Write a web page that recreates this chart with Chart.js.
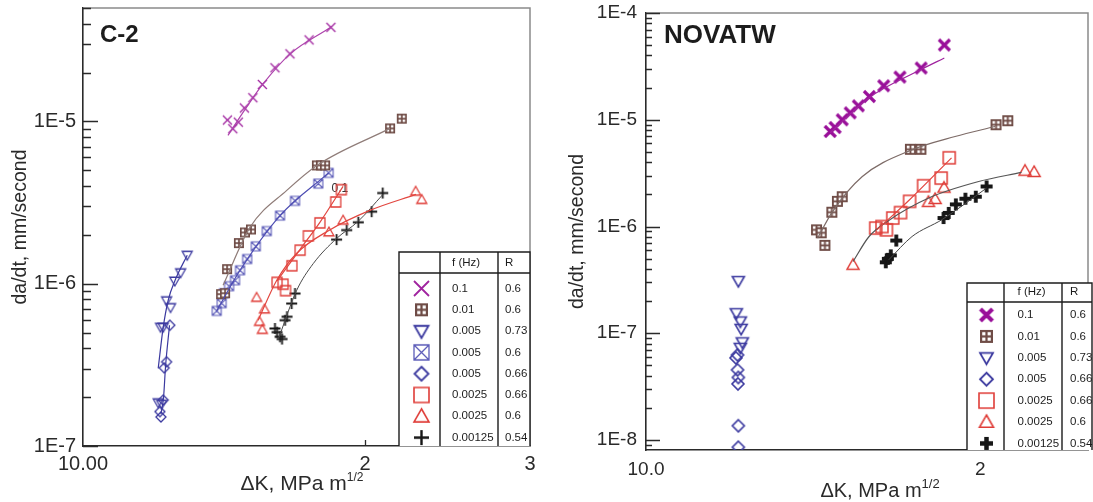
<!DOCTYPE html>
<html>
<head>
<meta charset="utf-8">
<script src="https://cdn.jsdelivr.net/npm/chart.js@4.4.1/dist/chart.umd.min.js"></script>
<style>
  html, body { margin: 0; padding: 0; background: #fff; }
  #wrap { position: relative; width: 1093px; height: 502px; overflow: hidden; }
  canvas { position: absolute; top: 0; }
  #c2 { left: 0; }
  #nova { left: 548px; }
</style>
</head>
<body>
<div id="wrap">
  <canvas id="c2" width="545" height="502"></canvas>
  <canvas id="nova" width="545" height="502"></canvas>
</div>
<script>
// ---------- C-2 panel data: [dK (MPa m^1/2), da/dt (mm/s)] ----------
const c2XTicks = [10, 20, 30];
const c2XLabels = ['10.00', '2', '3'];
const c2YTicks = [1e-7, 1e-6, 1e-5];
const c2YLabels = ['1E-7', '1E-6', '1E-5'];

const c2F01 = [[14.26,1.02e-5],[14.45,9.02e-6],[14.65,9.90e-6],[14.87,1.21e-5],[15.18,1.40e-5],[15.54,1.69e-5],[16.03,2.14e-5],[16.63,2.61e-5],[17.43,3.18e-5],[18.39,3.80e-5]];
const c2F01Fit = [[14.28,8.2e-6],[14.9,1.19e-5],[15.55,1.69e-5],[16.63,2.6e-5],[18.39,3.8e-5]];
const c2F001 = [[14.04,8.62e-7],[14.18,8.74e-7],[14.25,1.23e-6],[14.67,1.78e-6],[14.89,2.07e-6],[15.11,2.16e-6],[17.77,5.36e-6],[17.95,5.36e-6],[18.13,5.36e-6],[21.27,9.06e-6],[21.89,1.04e-5]];
const c2F001Fit = [[14.11,9.79e-7],[15.08,2.23e-6],[16.50,3.76e-6],[17.77,5.36e-6],[21.27,9.06e-6]];
const c2F0005R73 = [[12.92,1.50e-6],[12.71,1.17e-6],[12.53,1.04e-6],[12.28,7.86e-7],[12.40,7.14e-7],[12.10,5.40e-7],[12.18,5.40e-7],[12.03,1.85e-7],[12.13,1.81e-7]];
const c2F0005R73Fit = [[12.03,3.01e-7],[12.18,5.40e-7],[12.33,7.91e-7],[12.54,1.05e-6],[12.92,1.50e-6]];
const c2F0005R60 = [[13.89,6.80e-7],[14.06,7.59e-7],[14.14,8.74e-7],[14.32,9.65e-7],[14.53,1.05e-6],[14.71,1.21e-6],[14.97,1.42e-6],[15.29,1.70e-6],[15.71,2.11e-6],[16.23,2.63e-6],[16.84,3.24e-6],[17.83,4.14e-6],[18.29,4.82e-6]];
const c2F0005R60Fit = [[13.89,6.8e-7],[14.71,1.21e-6],[16.23,2.63e-6],[18.29,4.82e-6]];
const c2F0005R66 = [[12.38,5.55e-7],[12.28,3.30e-7],[12.21,3.03e-7],[12.18,1.92e-7],[12.08,1.63e-7],[12.11,1.51e-7]];
const c2F0005R66Fit = [[12.11,1.57e-7],[12.19,2.0e-7],[12.25,3.11e-7],[12.37,5.55e-7]];
const c2F00025R66 = [[16.11,1.02e-6],[16.35,9.93e-7],[16.45,9.06e-7],[16.71,1.29e-6],[17.05,1.61e-6],[17.40,1.97e-6],[17.90,2.37e-6],[18.61,3.19e-6],[18.87,3.80e-6]];
const c2F00025R66Fit = [[16.11,1.04e-6],[17.05,1.63e-6],[17.90,2.39e-6],[18.95,3.98e-6]];
const c2F00025R60 = [[15.32,8.23e-7],[15.62,6.97e-7],[15.43,5.85e-7],[15.54,5.22e-7],[18.30,2.08e-6],[18.95,2.46e-6],[22.65,3.71e-6],[22.99,3.30e-6]];
const c2F00025R60Fit = [[15.38,5.96e-7],[16.10,1.05e-6],[16.91,1.54e-6],[18.30,2.13e-6],[20.24,2.83e-6],[22.67,3.55e-6]];
const c2F000125 = [[16.03,5.30e-7],[16.11,5.03e-7],[16.23,4.71e-7],[16.31,4.56e-7],[16.43,5.96e-7],[16.51,6.26e-7],[16.70,7.55e-7],[16.84,8.70e-7],[18.65,1.87e-6],[19.12,2.14e-6],[19.67,2.39e-6],[20.33,2.78e-6],[20.89,3.62e-6]];
const c2F000125Fit = [[16.19,4.69e-7],[16.91,9.12e-7],[17.61,1.33e-6],[18.65,1.90e-6],[19.66,2.42e-6],[20.90,3.55e-6]];
const c2NoteText = '0.1';
const c2NoteAt = [18.80, 3.87e-6];

const c2Freq = ['0.1', '0.01', '0.005', '0.005', '0.005', '0.0025', '0.0025', '0.00125'];
const c2Ratio = ['0.6', '0.6', '0.73', '0.6', '0.66', '0.66', '0.6', '0.54'];

// ---------- NOVATW panel data ----------
const nvXTicks = [10, 20];
const nvXLabels = ['10.0', '2'];
const nvYTicks = [1e-8, 1e-7, 1e-6, 1e-5, 1e-4];
const nvYLabels = ['1E-8', '1E-7', '1E-6', '1E-5', '1E-4'];

const nvF01 = [[14.65,7.77e-6],[14.80,8.45e-6],[15.02,1.0e-5],[15.27,1.16e-5],[15.53,1.35e-5],[15.89,1.65e-5],[16.37,2.08e-5],[16.93,2.51e-5],[17.69,3.05e-5],[18.56,5.01e-5]];
const nvF01Fit = [[14.65,7.55e-6],[15.88,1.61e-5],[17.67,2.94e-5],[18.56,3.79e-5]];
const nvF001 = [[14.24,9.31e-7],[14.38,8.73e-7],[14.49,6.66e-7],[14.70,1.36e-6],[14.87,1.72e-6],[15.02,1.90e-6],[17.30,5.29e-6],[17.68,5.29e-6],[20.66,8.98e-6],[21.17,9.79e-6]];
const nvF001Fit = [[14.27,7.78e-7],[14.72,1.38e-6],[15.66,2.94e-6],[17.30,5.16e-6],[18.98,6.97e-6],[20.62,8.65e-6]];
const nvF0005R73 = [[12.11,3.08e-7],[12.06,1.54e-7],[12.16,1.29e-7],[12.18,1.10e-7],[12.21,8.22e-8],[12.16,7.30e-8]];
const nvF0005R66 = [[12.09,6.27e-8],[12.05,5.88e-8],[12.09,4.54e-8],[12.11,3.86e-8],[12.10,3.36e-8],[12.11,1.36e-8],[12.11,8.56e-9]];
const nvF00025R66 = [[16.10,9.66e-7],[16.31,1.0e-6],[16.46,9.31e-7],[16.68,1.20e-6],[16.95,1.35e-6],[17.27,1.72e-6],[17.78,2.41e-6],[18.44,2.84e-6],[18.75,4.40e-6]];
const nvF00025R66Fit = [[16.14,9.31e-7],[17.27,1.78e-6],[18.84,4.40e-6]];
const nvF00025R60 = [[15.36,4.38e-7],[17.96,1.70e-6],[18.21,1.81e-6],[18.55,2.31e-6],[21.94,3.33e-6],[22.36,3.24e-6]];
const nvF00025R60Fit = [[15.36,4.70e-7],[15.88,8.06e-7],[16.54,1.14e-6],[17.97,1.85e-6],[19.93,2.64e-6],[21.78,3.21e-6]];
const nvF000125 = [[16.44,4.62e-7],[16.51,4.98e-7],[16.61,5.37e-7],[16.80,7.39e-7],[18.53,1.20e-6],[18.73,1.34e-6],[19.01,1.61e-6],[19.39,1.82e-6],[19.81,1.90e-6],[20.26,2.37e-6]];
const nvF000125Fit = [[16.54,4.87e-7],[17.36,8.06e-7],[18.47,1.16e-6],[20.26,2.29e-6]];

const nvFreq = ['0.1', '0.01', '0.005', '0.005', '0.0025', '0.0025', '0.00125'];
const nvRatio = ['0.6', '0.6', '0.73', '0.66', '0.66', '0.6', '0.54'];

const FONT = "'Liberation Sans', Arial, Helvetica, sans-serif";
Chart.defaults.font.family = FONT;

const MAGENTA = '#a0249f', BROWN = '#6f4c46', INDIGO = '#3b399f', BLUE = '#5b5bb8', RED = '#df3c37', BLACK = '#161616';

// small offscreen canvases used as point styles
function marker(kind, color, size, lw) {
  const pad = Math.ceil(lw) + 2;
  const dim = Math.ceil(size + pad * 2);
  const cv = document.createElement('canvas');
  cv.width = dim; cv.height = dim;
  const g = cv.getContext('2d');
  const c = dim / 2, h = size / 2;
  g.strokeStyle = color; g.fillStyle = color; g.lineWidth = lw;
  g.beginPath();
  if (kind === 'cross') {
    g.moveTo(c - h, c - h); g.lineTo(c + h, c + h);
    g.moveTo(c + h, c - h); g.lineTo(c - h, c + h);
    g.stroke();
  } else if (kind === 'plus') {
    g.moveTo(c - h, c); g.lineTo(c + h, c);
    g.moveTo(c, c - h); g.lineTo(c, c + h);
    g.stroke();
  } else if (kind === 'square') {
    g.rect(c - h, c - h, size, size); g.stroke();
  } else if (kind === 'boxcross') {
    g.rect(c - h, c - h, size, size);
    g.moveTo(c - h, c - h); g.lineTo(c + h, c + h);
    g.moveTo(c + h, c - h); g.lineTo(c - h, c + h);
    g.stroke();
  } else if (kind === 'grid') {
    g.fillRect(c - h, c - h, size, size);
    g.fillStyle = '#fff';
    const gap = Math.max(1.6, size * 0.17);
    const q = (size - 3 * gap) / 2;
    [[0, 0], [1, 0], [0, 1], [1, 1]].forEach(([i, j]) => {
      g.fillRect(c - h + gap + i * (q + gap), c - h + gap + j * (q + gap), q, q);
    });
  } else if (kind === 'diamond') {
    g.moveTo(c, c - h); g.lineTo(c + h, c); g.lineTo(c, c + h); g.lineTo(c - h, c);
    g.closePath(); g.stroke();
  } else if (kind === 'tridown') {
    g.moveTo(c - h, c - h * 0.75); g.lineTo(c + h, c - h * 0.75); g.lineTo(c, c + h);
    g.closePath(); g.stroke();
  } else if (kind === 'triup') {
    g.moveTo(c, c - h); g.lineTo(c + h, c + h * 0.75); g.lineTo(c - h, c + h * 0.75);
    g.closePath(); g.stroke();
  }
  return cv;
}

const xy = arr => arr.map(([x, y]) => ({ x, y }));

function pointSet(arr, style) {
  return { data: xy(arr), pointStyle: style, showLine: false, borderColor: 'transparent', backgroundColor: 'transparent' };
}
function fitSet(arr, color, width) {
  return {
    data: xy(arr), showLine: true, pointRadius: 0, borderColor: color, borderWidth: width || 1.2,
    cubicInterpolationMode: 'monotone', fill: false
  };
}

function logAxis(min, max, ticks, labels, size, fontSize, pad, isX) {
  return {
    type: 'logarithmic', min, max,
    afterBuildTicks: s => { s.ticks = ticks.map(v => ({ value: v })); },
    afterFit: s => {
      // fixed axis band; no extra room for edge labels
      if (isX) s.height = size; else s.width = size;
      s.paddingTop = 0; s.paddingBottom = 0; s.paddingLeft = 0; s.paddingRight = 0;
    },
    grid: { display: false, drawTicks: false },
    border: { display: true, color: '#2a2a2a', width: 1.6 },
    ticks: {
      autoSkip: false, maxRotation: 0, minRotation: 0, padding: pad,
      color: '#2a2a2a', font: { size: fontSize },
      callback: (v, i) => labels[i]
    }
  };
}

// frame, inward ticks, titles and the f/R table
function decor(o) {
  return {
    id: 'decor',
    beforeDatasetsDraw(chart) {
      if (!o.note) return;
      const ctx = chart.ctx;
      ctx.save();
      ctx.font = '12px ' + FONT;
      ctx.fillStyle = '#333';
      ctx.textAlign = 'center';
      ctx.textBaseline = 'middle';
      ctx.fillText(o.note.text, chart.scales.x.getPixelForValue(o.note.at[0]), chart.scales.y.getPixelForValue(o.note.at[1]));
      ctx.restore();
    },
    afterDraw(chart) {
      const ctx = chart.ctx, a = chart.chartArea, xs = chart.scales.x, ys = chart.scales.y;
      ctx.save();
      ctx.strokeStyle = '#8a8a8a';
      ctx.lineWidth = 1.5;
      ctx.beginPath();
      ctx.moveTo(a.left, a.top); ctx.lineTo(a.right, a.top); ctx.lineTo(a.right, a.bottom);
      ctx.stroke();

      ctx.strokeStyle = '#2a2a2a';
      ctx.lineWidth = 1.3;
      ctx.beginPath();
      const lo = Math.floor(Math.log10(ys.min)), hi = Math.ceil(Math.log10(ys.max));
      for (let d = lo; d <= hi; d++) {
        for (let m = 1; m <= 9; m++) {
          const v = m * Math.pow(10, d);
          if (v < ys.min * 0.999 || v > ys.max * 1.001) continue;
          const py = Math.round(ys.getPixelForValue(v)) + 0.5;
          ctx.moveTo(a.left, py);
          ctx.lineTo(a.left + (m === 1 ? o.major : o.minor), py);
        }
      }
      o.xTicks.forEach(v => {
        const px = Math.round(xs.getPixelForValue(v)) + 0.5;
        ctx.moveTo(px, a.bottom); ctx.lineTo(px, a.bottom - 6);
      });
      ctx.stroke();

      // panel name
      ctx.fillStyle = '#1c1c1c';
      ctx.textBaseline = 'alphabetic';
      ctx.textAlign = 'left';
      ctx.font = 'bold ' + o.nameSize + 'px ' + FONT;
      ctx.fillText(o.name, o.nameX, o.nameY);

      // y title
      ctx.save();
      ctx.translate(o.yTitleX, (a.top + a.bottom) / 2);
      ctx.rotate(-Math.PI / 2);
      ctx.textAlign = 'center';
      ctx.textBaseline = 'middle';
      ctx.font = '19.5px ' + FONT;
      ctx.fillStyle = '#2a2a2a';
      ctx.fillText('da/dt, mm/second', 0, 0);
      ctx.restore();

      // x title with superscript exponent
      ctx.fillStyle = '#2a2a2a';
      ctx.textAlign = 'left';
      ctx.font = o.xTitleSize + 'px ' + FONT;
      const main = '\u0394K, MPa m';
      const w1 = ctx.measureText(main).width;
      ctx.font = o.supSize + 'px ' + FONT;
      const w2 = ctx.measureText('1/2').width;
      const x0 = o.xTitleCx - (w1 + w2) / 2;
      ctx.font = o.xTitleSize + 'px ' + FONT;
      ctx.fillText(main, x0, o.xTitleY);
      ctx.font = o.supSize + 'px ' + FONT;
      ctx.fillText('1/2', x0 + w1, o.xTitleY - o.xTitleSize * 0.45);

      // legend table
      const t = o.table;
      ctx.fillStyle = '#fff';
      ctx.fillRect(t.x0, t.y0, t.x3 - t.x0, t.y1 - t.y0);
      ctx.strokeStyle = '#1c1c1c';
      ctx.lineWidth = 1.4;
      ctx.beginPath();
      ctx.moveTo(t.x0, t.y1); ctx.lineTo(t.x0, t.y0); ctx.lineTo(t.x3, t.y0); ctx.lineTo(t.x3, t.y1);
      ctx.moveTo(t.x0, t.yh); ctx.lineTo(t.x3, t.yh);
      ctx.moveTo(t.x1, t.y0); ctx.lineTo(t.x1, t.y1);
      ctx.moveTo(t.x2, t.y0); ctx.lineTo(t.x2, t.y1);
      ctx.stroke();
      ctx.fillStyle = '#1c1c1c';
      ctx.textBaseline = 'middle';
      ctx.font = '11.5px ' + FONT;
      ctx.fillText('f (Hz)', t.fx, t.headY);
      ctx.fillText('R', t.rx, t.headY);
      t.freq.forEach((f, i) => {
        const cy = t.row0 + i * t.step;
        const mk = t.markers[i];
        ctx.drawImage(mk, t.mx - mk.width / 2, cy - mk.height / 2);
        ctx.fillStyle = '#1c1c1c';
        ctx.fillText(f, t.fx, cy);
        ctx.fillText(t.ratio[i], t.rx, cy);
      });
      ctx.restore();
    }
  };
}

// ---------- C-2 ----------
new Chart(document.getElementById('c2'), {
  type: 'scatter',
  data: {
    datasets: [
      fitSet(c2F01Fit, '#ad43ac'),
      fitSet(c2F001Fit, '#8f7c78'),
      fitSet(c2F0005R73Fit, INDIGO),
      fitSet(c2F0005R60Fit, '#4c4cb2'),
      fitSet(c2F0005R66Fit, INDIGO),
      fitSet(c2F00025R66Fit, '#e2463f'),
      fitSet(c2F00025R60Fit, '#e2463f'),
      fitSet(c2F000125Fit, '#4a4a4a', 1),
      pointSet(c2F01, marker('cross', MAGENTA, 9, 1.3)),
      pointSet(c2F001, marker('grid', BROWN, 10, 1)),
      pointSet(c2F0005R73, marker('tridown', INDIGO, 10, 1.3)),
      pointSet(c2F0005R60, marker('boxcross', BLUE, 9, 1.1)),
      pointSet(c2F0005R66, marker('diamond', INDIGO, 10, 1.3)),
      pointSet(c2F00025R66, marker('square', RED, 10, 1.3)),
      pointSet(c2F00025R60, marker('triup', RED, 10, 1.3)),
      pointSet(c2F000125, marker('plus', BLACK, 11, 1.8))
    ]
  },
  options: {
    responsive: false, animation: false, events: [],
    layout: { padding: { left: 0, right: 15, top: 8, bottom: 0 } },
    plugins: { legend: { display: false }, tooltip: { enabled: false } },
    scales: {
      x: logAxis(10, 30, c2XTicks, c2XLabels, 56, 20, 6, true),
      y: logAxis(1e-7, 5e-5, c2YTicks, c2YLabels, 83, 20, 7, false)
    }
  },
  plugins: [decor({
    major: 15, minor: 8, xTicks: [20],
    name: 'C-2', nameSize: 24, nameX: 100, nameY: 42,
    yTitleX: 21, xTitleCx: 302, xTitleY: 490, xTitleSize: 21, supSize: 12,
    note: { text: c2NoteText, at: c2NoteAt },
    table: {
      x0: 399, x1: 440, x2: 498, x3: 530, y0: 252, yh: 273, y1: 446,
      headY: 263, row0: 288.5, step: 21.3, mx: 421.5, fx: 452, rx: 505,
      freq: c2Freq, ratio: c2Ratio,
      markers: [
        marker('cross', MAGENTA, 15, 1.8), marker('grid', BROWN, 13, 1),
        marker('tridown', INDIGO, 14, 1.8), marker('boxcross', BLUE, 15, 1.3),
        marker('diamond', INDIGO, 14, 1.8), marker('square', RED, 15, 1.6),
        marker('triup', RED, 15, 1.6), marker('plus', BLACK, 15, 2.4)
      ]
    }
  })]
});

// ---------- NOVATW ----------
new Chart(document.getElementById('nova'), {
  type: 'scatter',
  data: {
    datasets: [
      fitSet(nvF01Fit, MAGENTA),
      fitSet(nvF001Fit, '#7d6b67'),
      fitSet(nvF00025R66Fit, '#e2463f'),
      fitSet(nvF00025R60Fit, '#555'),
      fitSet(nvF000125Fit, '#444', 1),
      pointSet(nvF01, marker('cross', '#990f99', 11, 3.2)),
      pointSet(nvF001, marker('grid', BROWN, 11, 1)),
      pointSet(nvF0005R73, marker('tridown', INDIGO, 12, 1.6)),
      pointSet(nvF0005R66, marker('diamond', INDIGO, 12, 1.6)),
      pointSet(nvF00025R66, marker('square', RED, 12, 1.5)),
      pointSet(nvF00025R60, marker('triup', RED, 12, 1.5)),
      pointSet(nvF000125, marker('plus', BLACK, 12, 3.8))
    ]
  },
  options: {
    responsive: false, animation: false, events: [],
    layout: { padding: { left: 0, right: 1, top: 13, bottom: 0 } },
    plugins: { legend: { display: false }, tooltip: { enabled: false } },
    scales: {
      x: logAxis(10, 25, nvXTicks, nvXLabels, 52, 19, 8, true),
      y: logAxis(8.06e-9, 1e-4, nvYTicks, nvYLabels, 98, 19, 9, false)
    }
  },
  plugins: [decor({
    major: 14, minor: 6, xTicks: [20],
    name: 'NOVATW', nameSize: 26, nameX: 116, nameY: 43,
    yTitleX: 30, xTitleCx: 332, xTitleY: 497, xTitleSize: 20, supSize: 13,
    table: {
      x0: 419, x1: 456, x2: 514, x3: 544, y0: 283, yh: 302, y1: 450,
      headY: 292, row0: 315, step: 21.4, mx: 438.5, fx: 469.5, rx: 522,
      freq: nvFreq, ratio: nvRatio,
      markers: [
        marker('cross', '#990f99', 12, 4), marker('grid', BROWN, 13, 1),
        marker('tridown', INDIGO, 13, 1.8), marker('diamond', INDIGO, 13, 1.8),
        marker('square', RED, 15, 1.6), marker('triup', RED, 14, 1.6),
        marker('plus', BLACK, 13, 4.5)
      ]
    }
  })]
});
</script>
</body>
</html>
